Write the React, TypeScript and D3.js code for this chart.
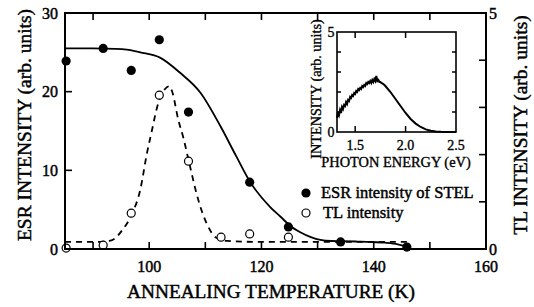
import React from "react";
import * as d3 from "d3";

// ESR intensity of STEL (filled circles), left axis
const esrTemp = [85.2, 91.8, 96.8, 101.8, 107.0, 117.9, 124.8, 134.1, 145.9];
const esrVal = [23.9, 25.5, 22.7, 26.6, 17.4, 8.5, 2.8, 0.9, 0.25];

// TL intensity (open circles), right axis
const tlTemp = [85.2, 91.8, 96.8, 101.8, 107.0, 112.8, 117.9, 124.8];
const tlVal = [0.02, 0.08, 0.76, 3.26, 1.86, 0.25, 0.32, 0.25];

// Solid fit curve (ESR)
const fitEsrT = [85, 90, 94, 96, 98.4, 102, 105.5, 109.1, 112.7, 115.5, 118, 121.6, 123.4, 125.2, 127, 128.8, 130.5, 132.5, 134.1, 137, 139.5, 142, 144.3, 146.1];
const fitEsrV = [25.5, 25.5, 25.45, 25.35, 25.0, 24.3, 22.4, 19.9, 15.6, 11.8, 8.5, 5.3, 4.1, 2.9, 2.1, 1.5, 1.15, 1.02, 1.0, 0.95, 0.9, 0.8, 0.6, 0.25];

// Dashed fit curve (TL)
const fitTlT = [85, 91, 93.4, 95.2, 97, 98.4, 99.6, 100.5, 101.4, 102.9, 103.6, 104.1, 105.2, 106.1, 107.1, 108.6, 110.4, 111.8, 113.9, 120, 130, 140, 146];
const fitTlV = [0.15, 0.15, 0.19, 0.4, 0.76, 1.25, 2.03, 2.52, 3.0, 3.4, 3.45, 3.33, 2.73, 2.35, 1.84, 1.1, 0.5, 0.25, 0.17, 0.15, 0.15, 0.15, 0.15];

// Inset: TL spectrum
const insetE = [1.32, 1.33, 1.34, 1.35, 1.36, 1.37, 1.38, 1.39, 1.40, 1.41, 1.42, 1.43, 1.44, 1.45, 1.46, 1.47, 1.48, 1.49, 1.50, 1.51, 1.52, 1.53, 1.54, 1.55, 1.56, 1.57, 1.58, 1.59, 1.60, 1.61, 1.62, 1.63, 1.64, 1.65, 1.66, 1.67, 1.68, 1.69, 1.70, 1.71, 1.72, 1.73, 1.74, 1.75, 1.76, 1.78, 1.80, 1.85, 1.90, 1.95, 2.00, 2.05, 2.10, 2.15, 2.20, 2.25, 2.30, 2.35, 2.40, 2.45, 2.50];
const insetV = [0.7, 1.0, 0.85, 1.1, 0.95, 1.25, 1.15, 1.35, 1.3, 1.5, 1.4, 1.6, 1.55, 1.75, 1.7, 1.85, 1.8, 1.95, 1.9, 2.05, 2.0, 2.15, 2.1, 2.2, 2.15, 2.3, 2.25, 2.35, 2.3, 2.45, 2.4, 2.5, 2.45, 2.55, 2.45, 2.6, 2.5, 2.65, 2.55, 2.8, 2.55, 2.6, 2.5, 2.5, 2.45, 2.4, 2.3, 2.0, 1.65, 1.3, 0.95, 0.65, 0.42, 0.25, 0.13, 0.06, 0.03, 0.01, 0.0, 0.0, 0.0];

const xMajorTicks = [90, 100, 110, 120, 130, 140, 150];
const xTickLabels = [100, 120, 140, 160];
const yLeftTicks = [10, 20];
const yLeftLabels = [0, 10, 20, 30];
const yRightTicks = [1, 2, 3, 4];
const yRightLabels = [0, 5];
const insetXTicks = [1.5, 2.0];
const insetXLabels = ["1.5", "2.0", "2.5"];
const insetYTicks = [1, 2, 3, 4];

const FONT = "Liberation Serif, DejaVu Serif, serif";

export default function App() {
  const L = 65, R = 486, T = 13, B = 249;
  const x = d3.scaleLinear().domain([85, 160]).range([L, R]);
  const yL = d3.scaleLinear().domain([0, 30]).range([B, T]);
  const yR = d3.scaleLinear().domain([0, 5]).range([B, T]);

  const iL = 337, iR = 456, iT = 32, iB = 132;
  const ix = d3.scaleLinear().domain([1.32, 2.5]).range([iL, iR]);
  const iy = d3.scaleLinear().domain([0, 5]).range([iB, iT]);

  const esrLine = d3.line<number>().x((d, i) => x(fitEsrT[i])).y((d) => yL(d)).curve(d3.curveMonotoneX);
  const tlLine = d3.line<number>().x((d, i) => x(fitTlT[i])).y((d) => yR(d)).curve(d3.curveMonotoneX);
  const insetLine = d3.line<number>().x((d, i) => ix(insetE[i])).y((d) => iy(d));

  const tk = 7;
  const itk = 6;
  const ts = { fontFamily: FONT };
  const heavy = { stroke: "#000", strokeWidth: 0.45 };

  return (
    <svg width={534} height={307} style={{ position: "absolute", left: 0, top: 0, background: "#fff", fontFamily: FONT }}>
      <rect x={0} y={0} width={534} height={307} fill="#fff" />
      {/* fit curves */}
      <path d={esrLine(fitEsrV) || ""} fill="none" stroke="#000" strokeWidth={1.8} />
      <path d={tlLine(fitTlV) || ""} fill="none" stroke="#000" strokeWidth={1.8} strokeDasharray="6,5" />
      {/* data points */}
      {tlVal.map((v, i) => (
        <circle key={"tl" + i} cx={x(tlTemp[i])} cy={yR(v)} r={4} fill="#fff" stroke="#000" strokeWidth={1.2} />
      ))}
      {esrVal.map((v, i) => (
        <circle key={"esr" + i} cx={x(esrTemp[i])} cy={yL(v)} r={4.6} fill="#000" />
      ))}
      {/* frame */}
      <rect x={L} y={T} width={R - L} height={B - T} fill="none" stroke="#000" strokeWidth={2} />
      {xMajorTicks.map((t) => (
        <g key={"xt" + t}>
          <line x1={x(t)} x2={x(t)} y1={B} y2={B - tk} stroke="#000" strokeWidth={1.6} />
          <line x1={x(t)} x2={x(t)} y1={T} y2={T + tk} stroke="#000" strokeWidth={1.6} />
        </g>
      ))}
      {yLeftTicks.map((t) => (
        <line key={"yl" + t} x1={L} x2={L + tk} y1={yL(t)} y2={yL(t)} stroke="#000" strokeWidth={1.6} />
      ))}
      {yRightTicks.map((t) => (
        <line key={"yr" + t} x1={R} x2={R - tk} y1={yR(t)} y2={yR(t)} stroke="#000" strokeWidth={1.6} />
      ))}
      <g {...heavy}>
        {xTickLabels.map((t) => (
          <text key={"xl" + t} style={ts} x={x(t)} y={272} fontSize={16} textAnchor="middle">{t}</text>
        ))}
        {yLeftLabels.map((t) => (
          <text key={"yll" + t} style={ts} x={58} y={yL(t)} dy="0.35em" fontSize={16} textAnchor="end">{t}</text>
        ))}
        {yRightLabels.map((t) => (
          <text key={"yrl" + t} style={ts} x={489} y={yR(t)} dy="0.35em" fontSize={16} textAnchor="start">{t}</text>
        ))}
        <text style={ts} x={271} y={298} fontSize={19.3} textAnchor="middle">ANNEALING TEMPERATURE (K)</text>
        <text style={ts} transform="translate(31,125) rotate(-90)" fontSize={19.5} textAnchor="middle">ESR INTENSITY (arb. units)</text>
        <text style={ts} transform="translate(527,125) rotate(-90)" fontSize={19.5} textAnchor="middle">TL INTENSITY (arb. units)</text>

        {/* legend */}
        <text style={ts} x={321} y={198} fontSize={16.5}>ESR intensity of STEL</text>
        <text style={ts} x={323} y={218} fontSize={16.5}>TL intensity</text>
      </g>
      <circle cx={306} cy={193} r={4.6} fill="#000" />
      <circle cx={306} cy={213} r={4} fill="#fff" stroke="#000" strokeWidth={1.2} />

      {/* inset */}
      <path d={insetLine(insetV) || ""} fill="none" stroke="#000" strokeWidth={2} />
      <rect x={iL} y={iT} width={iR - iL} height={iB - iT} fill="none" stroke="#000" strokeWidth={1.6} />
      {insetXTicks.map((t) => (
        <g key={"ixt" + t}>
          <line x1={ix(t)} x2={ix(t)} y1={iB} y2={iB - itk} stroke="#000" strokeWidth={1.5} />
          <line x1={ix(t)} x2={ix(t)} y1={iT} y2={iT + itk} stroke="#000" strokeWidth={1.5} />
        </g>
      ))}
      {insetYTicks.map((t) => (
        <g key={"iyt" + t}>
          <line x1={iL} x2={iL + itk - 2} y1={iy(t)} y2={iy(t)} stroke="#000" strokeWidth={1.5} />
          <line x1={iR} x2={iR - itk + 2} y1={iy(t)} y2={iy(t)} stroke="#000" strokeWidth={1.5} />
        </g>
      ))}
      <g stroke="#000" strokeWidth={0.35}>
        {insetXLabels.map((t) => (
          <text key={"ixl" + t} style={ts} x={ix(+t)} y={150} fontSize={14} textAnchor="middle">{t}</text>
        ))}
        <text style={ts} x={331} y={iy(5)} dy="0.35em" fontSize={14} textAnchor="middle">5</text>
        <text style={ts} x={331} y={iy(0)} dy="0.35em" fontSize={14} textAnchor="middle">0</text>
        <text style={ts} x={396} y={167} fontSize={14.4} textAnchor="middle">PHOTON ENERGY (eV)</text>
        <text style={ts} transform="translate(321,89) rotate(-90)" fontSize={14.2} textAnchor="middle">INTENSITY (arb. units)</text>
      </g>
    </svg>
  );
}
